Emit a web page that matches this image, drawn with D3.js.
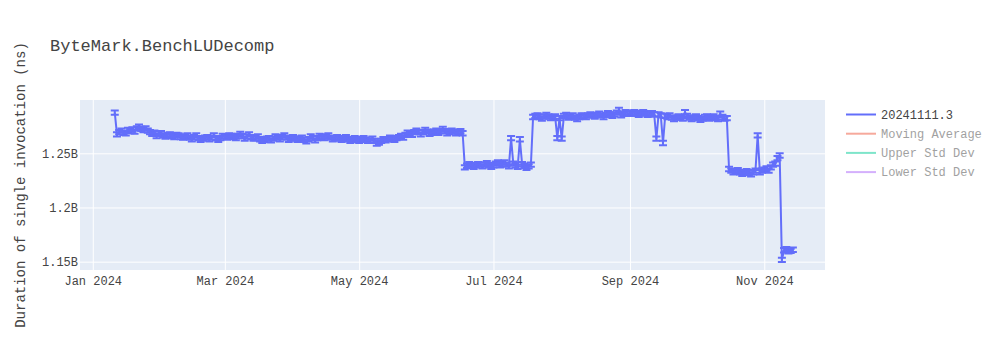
<!DOCTYPE html>
<html>
<head>
<meta charset="utf-8">
<script src="https://cdn.jsdelivr.net/npm/d3@7"></script>
<style>
  body { margin: 0; background: #fff; }
  text { font-family: "Liberation Mono", "Courier New", monospace; fill: #444; }
  .axis path { display: none; }
  .grid line { stroke: #fff; stroke-width: 1; }
</style>
</head>
<body>
<div id="chart"></div>
<script>
// daily duration of one run in millions of ns, one list per month of 2024
var janM = [1287.5, 1267.5, 1269.5, 1271, 1269, 1268.5, 1271.5, 1270.5, 1272, 1270, 1273, 1274.5, 1272.5, 1271.5, 1273, 1271, 1269.5, 1268, 1269, 1266, 1268];
var febM = [1268.5, 1266.5, 1265.5, 1267, 1267.5, 1266, 1265, 1267, 1266.5, 1265, 1264.5, 1265.5, 1266.5, 1264.5, 1263, 1265, 1266.5, 1264, 1262.5, 1263.5, 1264.5, 1265, 1263, 1264.5, 1266.5, 1264, 1262.5, 1264, 1266];
var marM = [1265.5, 1264.5, 1266.5, 1266, 1265, 1264, 1266, 1268, 1266, 1263.5, 1265.5, 1267.5, 1265, 1263.5, 1264, 1265.5, 1263, 1261.5, 1262.5, 1263.5, 1264, 1262, 1263.5, 1265.5, 1264.5, 1263, 1265, 1266.5, 1264.5, 1262.5, 1264];
var aprM = [1265, 1263.5, 1262.5, 1263.5, 1264.5, 1262.5, 1261, 1263, 1265.5, 1264, 1262, 1264, 1266, 1265, 1264, 1265.5, 1266.5, 1264.5, 1263, 1264, 1265, 1263.5, 1262.5, 1264, 1265, 1263, 1261.5, 1262.5, 1264, 1262.5];
var mayM = [1261.5, 1263, 1264, 1262.5, 1261.5, 1262, 1263.5, 1261.5, 1259, 1260, 1261.5, 1263, 1262, 1263, 1264.5, 1263.5, 1262.5, 1264, 1265, 1266, 1264.5, 1267, 1269, 1268, 1267, 1269.5, 1271, 1269.5, 1267.5, 1269.5, 1271.5];
var junM = [1270, 1268, 1269, 1270, 1271, 1269, 1270.5, 1272.5, 1270.5, 1268.5, 1269.5, 1271, 1270, 1268.5, 1269.5, 1270.5, 1268.5, 1237, 1238.5, 1240, 1238.5, 1237.5, 1239, 1240, 1239.5, 1238, 1239.5, 1241, 1239, 1237.5];
var julM = [1239, 1240.5, 1241.5, 1239, 1240, 1241.5, 1239.5, 1238, 1264, 1240.5, 1239, 1237.5, 1263, 1240, 1238.5, 1236.5, 1238, 1239.5, 1283.5, 1284.5, 1285, 1283.5, 1282, 1284, 1285.5, 1284, 1282.5, 1283, 1284, 1264, 1282.5];
var augM = [1263.5, 1284.5, 1285.5, 1283, 1284, 1285, 1283, 1281.5, 1283.5, 1285, 1284.5, 1283.5, 1285, 1286, 1285, 1284, 1285.5, 1286.5, 1285, 1283.5, 1285.5, 1287, 1286, 1284.5, 1286, 1287.5, 1290, 1285, 1286.5, 1288, 1287];
var sepM = [1286.5, 1287.5, 1288, 1286.5, 1285.5, 1287, 1288, 1287, 1285.5, 1286, 1287, 1286, 1263.5, 1286, 1285, 1259.5, 1284.5, 1283.5, 1285, 1283, 1281.5, 1283, 1284, 1283, 1282, 1288, 1284.5, 1283, 1281.5, 1283];
var octM = [1284, 1282.5, 1281, 1282, 1283.5, 1284, 1282, 1283, 1284, 1282.5, 1281.5, 1286.5, 1283.5, 1282, 1282.5, 1235.5, 1234, 1232.5, 1233.5, 1234.5, 1232.5, 1231, 1232, 1233.5, 1232, 1230.5, 1232.5, 1234, 1266.5, 1232.5, 1234];
var novM = [1235, 1236, 1234, 1237, 1239.5, 1240.5, 1245.5, 1248, 1151.7, 1160.5, 1161.5, 1159.5, 1160, 1161];
var months = [janM, febM, marM, aprM, mayM, junM, julM, augM, sepM, octM, novM];
var firstDays = [11, 1, 1, 1, 1, 1, 1, 1, 1, 1, 1];
var errorM = 2;

var yTicks = [1.15e9, 1.2e9, 1.25e9];
var legendNames = ["20241111.3", "Moving Average", "Upper Std Dev", "Lower Std Dev"];
var legendColors = ["#636efa", "#EF553B", "#00cc96", "#ab63fa"];
var legendVisible = [true, false, false, false];

var svgWidth = 1000;
var svgHeight = 350;
var margin = { top: 100, right: 175, bottom: 80, left: 80 };
var width = svgWidth - margin.left - margin.right;
var height = svgHeight - margin.top - margin.bottom;

var data = [];
months.forEach(function(vals, m) {
  vals.forEach(function(v, i) {
    data.push({ date: new Date(2024, m, firstDays[m] + i), value: v * 1e6, err: errorM * 1e6 });
  });
});

var svg = d3.select("#chart")
  .append("svg")
  .attr("width", svgWidth)
  .attr("height", svgHeight);
svg.append("rect")
  .attr("width", "100%")
  .attr("height", "100%")
  .attr("fill", "white");

var chartGroup = svg.append("g")
  .attr("transform", `translate(${margin.left}, ${margin.top})`);

chartGroup.append("rect")
  .attr("width", width)
  .attr("height", height)
  .attr("fill", "#e5ecf6");

// scales
var xTimeScale = d3.scaleTime()
  .domain([new Date(2023, 11, 26, 5), new Date(2024, 10, 28, 14)])
  .range([0, width]);

var yLinearScale = d3.scaleLinear()
  .domain([1.1423e9, 1.2992e9])
  .range([height, 0]);

var xTicks = d3.timeMonth.every(2).range(new Date(2024, 0, 1), new Date(2024, 11, 1));

// gridlines
chartGroup.append("g")
  .attr("class", "grid")
  .attr("transform", `translate(0, ${height})`)
  .call(d3.axisBottom(xTimeScale).tickValues(xTicks).tickSize(-height).tickFormat(""))
  .select(".domain").remove();

chartGroup.append("g")
  .attr("class", "grid")
  .call(d3.axisLeft(yLinearScale).tickValues(yTicks).tickSize(-width).tickFormat(""))
  .select(".domain").remove();

// axes labels
var bottomAxis = d3.axisBottom(xTimeScale)
  .tickValues(xTicks)
  .tickSize(0)
  .tickPadding(6)
  .tickFormat(d3.timeFormat("%b %Y"));

var leftAxis = d3.axisLeft(yLinearScale)
  .tickValues(yTicks)
  .tickSize(0)
  .tickPadding(2)
  .tickFormat(function(d) { return d3.format(".3~s")(d).replace("G", "B"); });

chartGroup.append("g")
  .attr("class", "axis")
  .attr("transform", `translate(0, ${height})`)
  .call(bottomAxis)
  .selectAll("text")
  .style("font-size", "12px")
  .attr("fill", "#444");

chartGroup.append("g")
  .attr("class", "axis")
  .call(leftAxis)
  .selectAll("text")
  .style("font-size", "12px")
  .attr("fill", "#444");

svg.selectAll(".axis").attr("font-family", null);

// data, clipped to the plot area
chartGroup.append("clipPath")
  .attr("id", "plotClip")
  .append("rect")
  .attr("width", width)
  .attr("height", height);

var plotGroup = chartGroup.append("g")
  .attr("clip-path", "url(#plotClip)");

var bars = plotGroup.append("g")
  .attr("stroke", "#636efa")
  .attr("stroke-width", 2)
  .attr("fill", "none");

bars.selectAll("path")
  .data(data)
  .enter()
  .append("path")
  .attr("d", function(d) {
    var x = xTimeScale(d.date);
    var y0 = yLinearScale(d.value - d.err);
    var y1 = yLinearScale(d.value + d.err);
    return `M${x - 4},${y1}H${x + 4}M${x},${y1}V${y0}M${x - 4},${y0}H${x + 4}`;
  });

var line = d3.line()
  .x(d => xTimeScale(d.date))
  .y(d => yLinearScale(d.value));

plotGroup.append("path")
  .datum(data)
  .attr("d", line)
  .attr("fill", "none")
  .attr("stroke", "#636efa")
  .attr("stroke-width", 2)
  .attr("stroke-linejoin", "round");

// title
svg.append("text")
  .attr("x", 50)
  .attr("y", 51)
  .style("font-size", "17px")
  .text("ByteMark.BenchLUDecomp");

// y axis title
svg.append("text")
  .attr("transform", `translate(25, ${margin.top + height / 2}) rotate(-90)`)
  .attr("text-anchor", "middle")
  .style("font-size", "14px")
  .text("Duration of single invocation (ns)");

// legend
var legend = svg.append("g")
  .attr("transform", "translate(846, 114.5)");

var items = legend.selectAll("g")
  .data(legendNames)
  .enter()
  .append("g")
  .attr("transform", (d, i) => `translate(0, ${i * 19.2})`)
  .attr("opacity", (d, i) => legendVisible[i] ? 1 : 0.5);

items.append("line")
  .attr("x1", 0)
  .attr("x2", 30)
  .attr("stroke", (d, i) => legendColors[i])
  .attr("stroke-width", 2);

items.append("text")
  .attr("x", 35)
  .attr("dy", "0.35em")
  .style("font-size", "12px")
  .text(d => d);
</script>
</body>
</html>
